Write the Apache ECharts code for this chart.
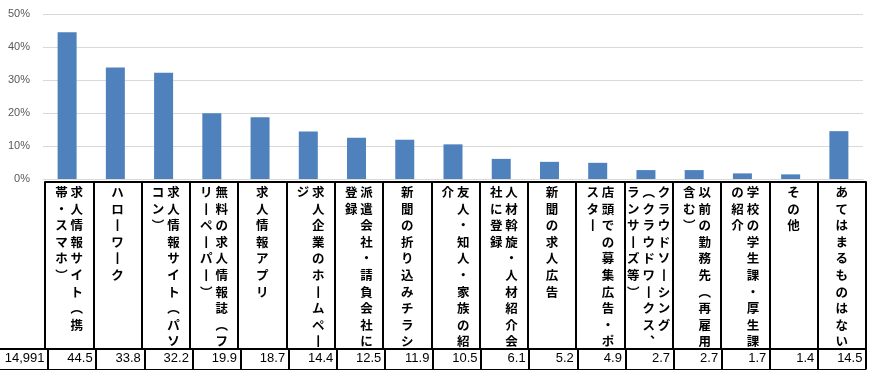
<!DOCTYPE html>
<html><head><meta charset="utf-8">
<script src="https://cdn.jsdelivr.net/npm/echarts@6/dist/echarts.min.js"></script>
<style>html,body{margin:0;padding:0;background:#fff}#c{width:870px;height:372px}</style>
</head><body><div id="c"></div>
<script>
const categories = [
  '求人情報サイト（携\n帯・スマホ）',
  'ハローワーク',
  '求人情報サイト（パソ\nコン）',
  '無料の求人情報誌（フ\nリーペーパー）',
  '求人情報アプリ',
  '求人企業のホームペー\nジ',
  '派遣会社・請負会社に\n登録',
  '新聞の折り込みチラシ',
  '友人・知人・家族の紹\n介',
  '人材斡旋・人材紹介会\n社に登録',
  '新聞の求人広告',
  '店頭での募集広告・ポ\nスター',
  'クラウドソーシング\n（クラウドワークス、\nランサーズ等）',
  '以前の勤務先（再雇用\n含む）',
  '学校の学生課・厚生課\nの紹介',
  'その他',
  'あてはまるものはない'
];
const values = [44.5, 33.8, 32.2, 19.9, 18.7, 14.4, 12.5, 11.9, 10.5, 6.1, 5.2, 4.9, 2.7, 2.7, 1.7, 1.4, 14.5];
const sampleSize = 14991;
const yTicks = [0, 10, 20, 30, 40, 50];

const VMAP = {'（': '︵', '）': '︶', 'ー': '丨', '、': '︑'};
function toVertical(label) {
  const cols = String(label).split('\n').map(s => Array.from(s).map(ch => VMAP[ch] || ch));
  const n = Math.max.apply(null, cols.map(c => c.length));
  const rows = [];
  for (let i = 0; i < n; i++) {
    rows.push(cols.slice().reverse().map(c => c[i] || '　').join(' '));
  }
  return rows.join('\n');
}
function fmtInt(n) { return String(n).replace(/\B(?=(\d{3})+(?!\d))/g, ','); }

const tableRow = [fmtInt(sampleSize)].concat(values.map(v => v.toFixed(1)));
const black = '#000';
const chart = echarts.init(document.getElementById('c'), null, {renderer: 'canvas'});
chart.setOption({
  animation: false,
  grid: [
    {left: 43, right: 7, top: 14, bottom: 193},
    {left: 45, right: 4, top: 182, height: 167},
    {left: -3, right: 4, top: 349, height: 20}
  ],
  xAxis: [
    {gridIndex: 0, type: 'category', data: categories,
      axisLine: {lineStyle: {color: '#d9d9d9', width: 1}}, axisTick: {show: false}, axisLabel: {show: false}},
    {gridIndex: 1, type: 'category', data: categories, position: 'top',
      axisLine: {onZero: false, lineStyle: {color: black, width: 2}}, axisTick: {show: false},
      splitLine: {show: true, lineStyle: {color: black, width: 2}},
      axisLabel: {inside: true, interval: 0, margin: 2, formatter: toVertical,
        fontFamily: 'Noto Sans CJK JP', fontWeight: 'bold', fontSize: 12.5, lineHeight: 16.6, color: '#000',
        align: 'center', verticalAlign: 'top'}},
    {gridIndex: 2, type: 'category', data: tableRow, position: 'bottom',
      axisLine: {onZero: false, lineStyle: {color: black, width: 1}}, axisTick: {show: false},
      splitLine: {show: true, showMinLine: false, lineStyle: {color: black, width: 2}},
      axisLabel: {inside: true, interval: 0, margin: 4, formatter: v => '{v|' + v + '}',
        rich: {v: {width: 41, align: 'right', fontFamily: 'Liberation Sans', fontSize: 13, color: '#000'}}}},
    {gridIndex: 2, type: 'category', data: tableRow, position: 'top',
      axisLine: {onZero: false, lineStyle: {color: black, width: 2}}, axisTick: {show: false},
      axisLabel: {show: false}}
  ],
  yAxis: [
    {gridIndex: 0, type: 'value', min: yTicks[0], max: yTicks[yTicks.length - 1], interval: yTicks[1] - yTicks[0],
      axisLine: {show: false}, axisTick: {show: false},
      splitLine: {lineStyle: {color: '#d9d9d9', width: 1}},
      axisLabel: {formatter: '{value}%', color: '#595959', fontSize: 11, fontFamily: 'Liberation Sans', margin: 13}},
    {gridIndex: 1, type: 'value', show: false},
    {gridIndex: 2, type: 'value', show: false}
  ],
  series: [{
    type: 'bar', xAxisIndex: 0, yAxisIndex: 0, data: values, barWidth: 19,
    itemStyle: {color: '#4f81bd'}
  }]
});
</script></body></html>
